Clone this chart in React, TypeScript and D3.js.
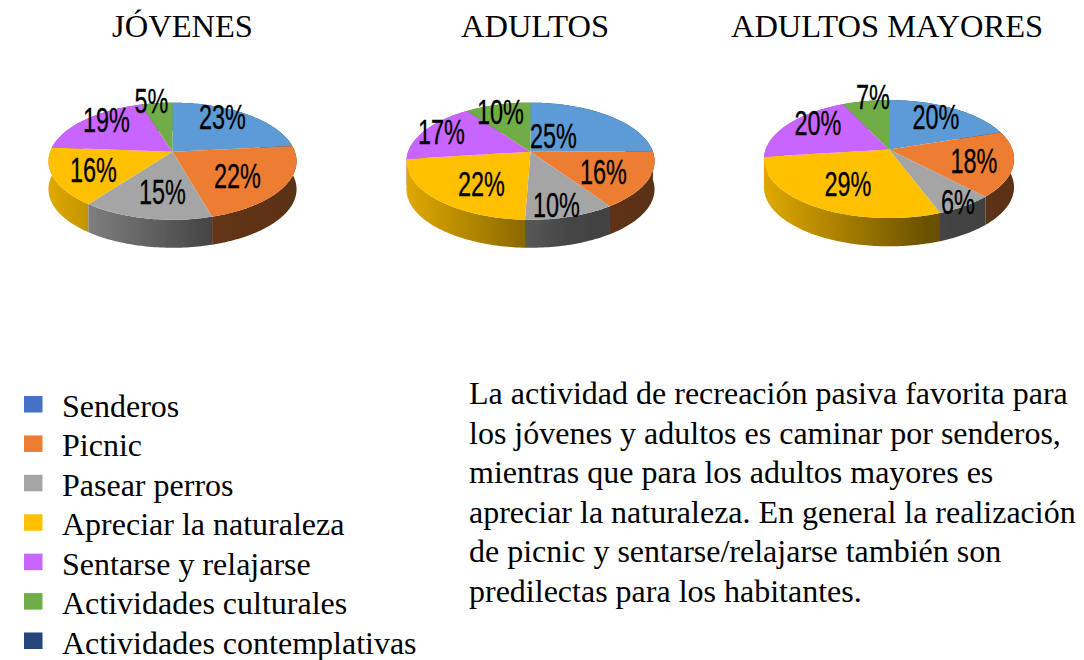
import React from 'react';
import * as d3 from 'd3';

const categories = ['Senderos', 'Picnic', 'Pasear perros', 'Apreciar la naturaleza', 'Sentarse y relajarse', 'Actividades culturales', 'Actividades contemplativas'];
const sliceColors = ['#5b9bd5', '#ed7d31', '#a5a5a5', '#ffc000', '#c965ff', '#70ad47', '#264478'];
const legendColors = ['#4472c4', '#ed7d31', '#a5a5a5', '#ffc000', '#c965ff', '#70ad47', '#264478'];

const groups = ['JÓVENES', 'ADULTOS', 'ADULTOS MAYORES'];
// labels show these rounded, the decimals are read from the slice edges
const jovenes = [23.4, 22.2, 14.6, 16, 19, 4.8, 0];
const adultos = [24.9, 15.6, 10.1, 22.4, 17, 10, 0];
const mayores = [20, 17.9, 6.4, 28.7, 20, 7, 0];
const seriesValues = [jovenes, adultos, mayores];

const paragraph = [
  'La actividad de recreación pasiva favorita para',
  'los jóvenes y adultos es caminar por senderos,',
  'mientras que para los adultos mayores es',
  'apreciar la naturaleza. En general la realización',
  'de picnic y sentarse/relajarse también son',
  'predilectas para los habitantes.',
];

// layout only, the labels were hand placed in the original so these are offsets from each apex
const apexes = [[172.5, 151.7], [530.5, 151.7], [889, 149.5]];
const pieScale = [1, 1, 1.008];
const titleX = [182.5, 535, 887];
const labelOffsets = [
  [[50, -35], [65, 24], [-10, 40], [-79, 18], [-66, -32], [-21, -51]],
  [[23, -16], [73, 20], [26, 53], [-49, 32], [-89, -20], [-30, -40]],
  [[47, -33], [85, 11], [69, 52], [-41, 34], [-71, -27], [-16, -53]],
];

const R = 122.4;
const S = 57;
const K = 0.1625;
const DEPTH = 28;

// circle -> tilted ellipse, with the apex above the ellipse centre like a perspective 3d pie
const project = (angle: number, r = 1): [number, number] => {
  const x = Math.sin(angle) * r;
  const v = -Math.cos(angle) * r;
  const den = 1 - K * v;
  return [(R * x) / den, (S * v) / den];
};

const arcPoints = (a0: number, a1: number) => {
  const n = Math.max(2, Math.ceil((a1 - a0) / 0.02));
  return d3.range(n + 1).map((i) => project(a0 + ((a1 - a0) * i) / n));
};

const line = d3.line();
const pie = d3.pie<number>().sort(null);
const shade = (c: string, k: number) => {
  const { r, g, b } = d3.rgb(c);
  return d3.rgb(r * k, g * k, b * k).formatHex();
};

const legendY = d3.scaleLinear().domain([0, 6]).range([417, 653.5]);
const paragraphY = d3.scaleLinear().domain([0, 5]).range([404, 602]);

const Pie3D = ({ index }: { index: number }) => {
  const [cx, cy] = apexes[index];
  const arcs = pie(seriesValues[index]).filter((d) => d.value > 0);
  const rx = R / Math.sqrt(1 - K * K);
  const order = [...arcs].sort((a, b) => project((a.startAngle + a.endAngle) / 2)[1] - project((b.startAngle + b.endAngle) / 2)[1]);
  return (
    <g transform={`translate(${cx},${cy}) scale(${pieScale[index]})`} filter="url(#soft)">
      <defs>
        {arcs.map((d) => {
          const c = sliceColors[d.index];
          return (
            <linearGradient key={d.index} id={`wall-${index}-${d.index}`} gradientUnits="userSpaceOnUse" x1={-rx} x2={rx} y1={0} y2={0}>
              <stop offset="0" stopColor={shade(c, 0.88)} />
              <stop offset="0.65" stopColor={shade(c, 0.42)} />
              <stop offset="1" stopColor={shade(c, 0.38)} />
            </linearGradient>
          );
        })}
      </defs>
      {order.map((d) => {
        const pts = arcPoints(d.startAngle, d.endAngle);
        const low = pts.map(([x, y]) => [x, y + DEPTH] as [number, number]).reverse();
        return <path key={d.index} d={line([...pts, ...low]) + 'Z'} fill={`url(#wall-${index}-${d.index})`} />;
      })}
      {arcs.map((d) => (
        <path key={d.index} d={line([[0, 0], ...arcPoints(d.startAngle, d.endAngle)]) + 'Z'} fill={sliceColors[d.index]} />
      ))}
    </g>
  );
};

const PieLabels = ({ index }: { index: number }) => {
  const [cx, cy] = apexes[index];
  return (
    <g fontFamily="'Liberation Sans', sans-serif" fontSize={35} fill="#000" stroke="#000" strokeWidth={0.3}>
      {pie(seriesValues[index])
        .filter((d) => d.value > 0)
        .map((d) => (
          <text
            key={d.index}
            textAnchor="middle"
            dominantBaseline="central"
            transform={`translate(${cx + labelOffsets[index][d.index][0]},${cy + labelOffsets[index][d.index][1]}) scale(0.67,1)`}
          >
            {Math.round(d.value)}%
          </text>
        ))}
    </g>
  );
};

export default function App() {
  return (
    <svg width={1084} height={660} style={{ position: 'absolute', left: 0, top: 0, background: '#fff' }}>
      <defs>
        <filter id="soft" x="-5%" y="-5%" width="110%" height="110%">
          <feGaussianBlur stdDeviation="0.5" />
        </filter>
      </defs>
      <g fontFamily="'Liberation Serif', serif" fill="#000">
        {groups.map((g, i) => (
          <text key={g} x={titleX[i]} y={37} textAnchor="middle" fontSize={32.5}>
            {g}
          </text>
        ))}
      </g>
      {groups.map((g, i) => (
        <g key={g}>
          <Pie3D index={i} />
          <PieLabels index={i} />
        </g>
      ))}
      <g fontFamily="'Liberation Serif', serif" fontSize={32} fill="#000">
        {categories.map((c, i) => (
          <g key={c}>
            <rect x={24} y={legendY(i) - 21} width={18.5} height={16.5} fill={legendColors[i]} filter="url(#soft)" />
            <text x={62} y={legendY(i)}>{c}</text>
          </g>
        ))}
        {paragraph.map((t, i) => (
          <text key={i} x={469} y={paragraphY(i)}>{t}</text>
        ))}
      </g>
    </svg>
  );
}
